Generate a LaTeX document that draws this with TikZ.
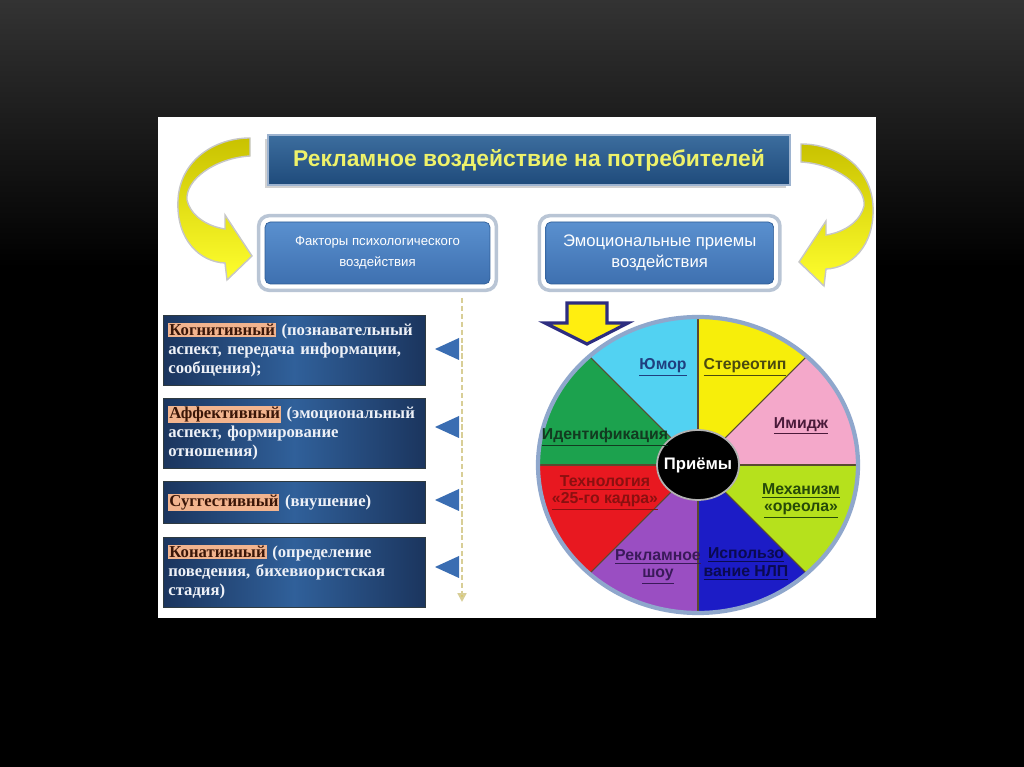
\documentclass[tikz,border=0pt]{standalone}
\usepackage{fontspec}
\setmainfont{Liberation Serif}
\setsansfont{Liberation Sans}
\usepackage{tikz}
\usetikzlibrary{shapes,arrows,positioning,fit,arrows.meta,shadows}
\usepackage{xcolor}

\definecolor{bgtop}{HTML}{333333}
\definecolor{titletop}{HTML}{3C6D9E}
\definecolor{titlebottom}{HTML}{1F4B7B}
\definecolor{titleedge}{HTML}{9DB3CF}
\definecolor{titletext}{HTML}{EEF26A}
\definecolor{headtop}{HTML}{5A90CF}
\definecolor{headbottom}{HTML}{3E70B0}
\definecolor{headedge}{HTML}{2E5C96}
\definecolor{frameedge}{HTML}{B9C5D5}
\definecolor{factordark}{HTML}{1B355E}
\definecolor{factorlight}{HTML}{30609A}
\definecolor{factorline}{HTML}{2E3A40}
\definecolor{factortext}{HTML}{EEF1F7}
\definecolor{termbg}{HTML}{F2B48E}
\definecolor{termtext}{HTML}{3A1608}
\definecolor{arrowolive}{HTML}{C9C200}
\definecolor{arrowyellow}{HTML}{FFFF2E}
\definecolor{guideyellow}{HTML}{D8CE96}
\definecolor{guidetip}{HTML}{D9C23A}
\definecolor{pointerblue}{HTML}{3A6DB2}
\definecolor{blockfill}{HTML}{FFEE10}
\definecolor{blockedge}{HTML}{2D2D80}
\definecolor{wcyan}{HTML}{52D2F2}
\definecolor{wyellow}{HTML}{F7EE0A}
\definecolor{wpink}{HTML}{F4A8CA}
\definecolor{wlime}{HTML}{B6E11C}
\definecolor{wblue}{HTML}{1C1CC6}
\definecolor{wpurple}{HTML}{9A4EC2}
\definecolor{wred}{HTML}{E81820}
\definecolor{wgreen}{HTML}{1CA24E}
\definecolor{sepcol}{HTML}{5A4A30}
\definecolor{rimcol}{HTML}{8FA7CC}
\definecolor{lhumour}{HTML}{1F3F7F}
\definecolor{lstereo}{HTML}{4A4A10}
\definecolor{limage}{HTML}{4A1A3A}
\definecolor{lhalo}{HTML}{264A08}
\definecolor{lnlp}{HTML}{0A0A50}
\definecolor{lshow}{HTML}{3A1A5A}
\definecolor{lframe}{HTML}{8A1010}
\definecolor{lident}{HTML}{123A20}

\newcommand{\term}[1]{{\setlength{\fboxsep}{0.6pt}\colorbox{termbg}{\textcolor{termtext}{#1}}}}

\begin{document}
\begin{tikzpicture}[x=0.02cm, y=0.02cm, node distance=0.25cm]
    \tikzstyle{titlebox} = [rectangle, draw=titleedge, line width=1.2pt, top color=titletop, bottom color=titlebottom, minimum width=10.44cm, minimum height=1cm, text=titletext, font=\sffamily\bfseries\fontsize{13}{15}\selectfont, drop shadow={shadow xshift=-2pt, shadow yshift=-2pt, opacity=0.35}]
    \tikzstyle{head} = [rectangle, draw=headedge, top color=headtop, bottom color=headbottom, rounded corners=3pt, minimum width=4.5cm, minimum height=1.24cm, text=white, align=center]
    \tikzstyle{frame} = [rectangle, draw=frameedge, line width=2pt, rounded corners=6pt, inner sep=0.12cm]
    \tikzstyle{factor} = [rectangle, draw=factorline, left color=factordark, right color=factordark, middle color=factorlight, text width=5.04cm, inner xsep=0.1cm, minimum height=1.4cm, align=left, text=factortext, font=\bfseries\fontsize{9.5}{10.8}\selectfont]
    \tikzstyle{bentarrow} = [draw=gray!45, line width=0.8pt, top color=arrowolive, bottom color=arrowyellow]
    \tikzstyle{guide} = [draw=guideyellow, line width=1.6pt, dash pattern=on 3pt off 1.5pt, -{Triangle[length=5pt, width=5pt, fill=guidetip]}]
    \tikzstyle{pointer} = [fill=pointerblue]
    \tikzstyle{blockarrow} = [fill=blockfill, draw=blockedge, line width=1.8pt]
    \tikzstyle{sepline} = [draw=sepcol, line width=0.6pt]
    \tikzstyle{rim} = [draw=rimcol, line width=2.4pt]
    \tikzstyle{hubdisc} = [fill=black, draw=gray!60, line width=1pt]
    \tikzstyle{hublabel} = [text=white, inner sep=0pt, font=\sffamily\bfseries\fontsize{9.5}{12}\selectfont]
    \tikzstyle{slicelabel} = [font=\sffamily\bfseries\fontsize{9}{10}\selectfont, align=center, inner sep=1pt]

    \useasboundingbox (0,0) rectangle (1024,767);
    \fill [black] (0,0) rectangle (1024,767);
    \shade [top color=bgtop, bottom color=black] (0,500) rectangle (1024,767);
    \fill [white] (158,149) rectangle (876,650);

    \foreach \s/\d/\m in {0/0/1, 1051/-6/-1}
        \shade [bentarrow, shift={(\s,\d)}, xscale=\m] (250,629) .. controls (215,629) and (180,607) .. (178,567)
            .. controls (176,527) and (200,505) .. (225,504) -- (227,487) -- (252,511) -- (225,552) -- (225,538)
            .. controls (205,541) and (190,553) .. (187,567) .. controls (185,587) and (215,609) .. (250,611) -- cycle;

    \node (title) [titlebox] at (529,607) {Рекламное воздействие на потребителей};
    \node (factors) [head, font=\sffamily\fontsize{7.5}{12}\selectfont] at (377.5,514) {Факторы психологического\\воздействия};
    \node (emotions) [head, minimum width=4.56cm, font=\sffamily\fontsize{9.5}{12}\selectfont, right=1.1cm of factors] {Эмоциональные приемы\\воздействия};
    \node (factorsFrame) [frame, fit=(factors)] {};
    \node (emotionsFrame) [frame, fit=(emotions)] {};

    \node (cognitive) [factor, anchor=north west] at (163,452) {\term{Когнитивный} (познавательный\\аспект, передача информации,\\сообщения);};
    \node (affective) [factor, below=0.24cm of cognitive] {\term{Аффективный} (эмоциональный\\аспект, формирование\\отношения)};
    \node (suggestive) [factor, minimum height=0.84cm, below=0.26cm of affective] {\term{Суггестивный} (внушение)};
    \node (conative) [factor, below=0.26cm of suggestive] {\term{Конативный} (определение\\поведения, бихевиористская\\стадия)};

    \coordinate (guideTop) at (462,469);
    \coordinate (guideEnd) at (462,165);
    \draw [guide] (guideTop) -- (guideEnd);
    \foreach \y in {418, 340, 267, 200}
        \fill [pointer] (459,\y+11) -- (435,\y) -- (459,\y-11) -- cycle;

    \filldraw [blockarrow] (567,464) -- (607,464) -- (607,444) -- (628,444) -- (587,423) -- (545,444) -- (567,444) -- cycle;

    \coordinate (hubCentre) at (698,302);
    \begin{scope}
        \clip (hubCentre) ellipse [x radius=160, y radius=148];
        \begin{scope}[shift={(hubCentre)}]
            \foreach \a/\b/\c in {90/135/wcyan, 45/90/wyellow, 0/45/wpink, -45/0/wlime, -90/-45/wblue, -135/-90/wpurple, 180/225/wred, 135/180/wgreen}
                \fill [\c] (0,0) -- (\a:260) -- (\b:260) -- cycle;
            \foreach \a in {0,45,...,315}
                \draw [sepline] (0,0) -- (\a:200);
        \end{scope}
    \end{scope}
    \draw [rim] (hubCentre) ellipse [x radius=160, y radius=148];
    \filldraw [hubdisc] (hubCentre) ellipse [x radius=41, y radius=35];
    \node (hub) [hublabel] at (hubCentre) {Приёмы};

    \node (humour) [slicelabel, text=lhumour] at (663,400) {\underline{Юмор}};
    \node (stereotype) [slicelabel, text=lstereo] at (745,400) {\underline{Стереотип}};
    \node (image) [slicelabel, text=limage] at (801,341) {\underline{Имидж}};
    \node (halo) [slicelabel, text=lhalo] at (801,266) {\underline{Механизм}\\\underline{«ореола»}};
    \node (nlp) [slicelabel, text=lnlp] at (746,203) {\underline{Использо}\\\underline{вание НЛП}};
    \node (show) [slicelabel, text=lshow] at (658,200) {\underline{Рекламное}\\\underline{шоу}};
    \node (frame25) [slicelabel, text=lframe] at (605,274) {\underline{Технология}\\\underline{«25-го кадра»}};
    \node (identity) [slicelabel, text=lident] at (605,330) {\underline{Идентификация}};
\end{tikzpicture}
\end{document}
